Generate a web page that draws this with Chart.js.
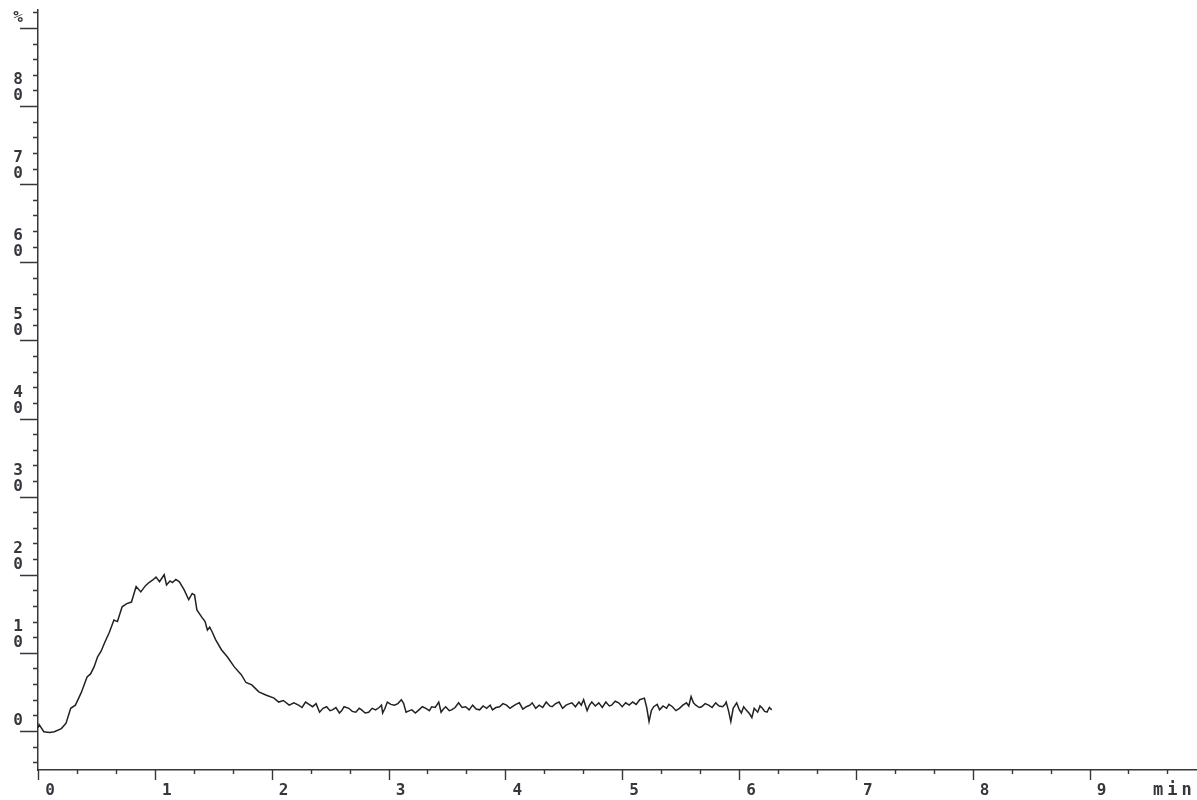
<!DOCTYPE html>
<html>
<head>
<meta charset="utf-8">
<script src="https://cdn.jsdelivr.net/npm/chart.js@4/dist/chart.umd.min.js"></script>
<style>
  html, body { margin: 0; padding: 0; background: #ffffff; }
  #c { display: block; }
</style>
</head>
<body>
<canvas id="c" width="1197" height="800"></canvas>
<script>
// ---- data ----
const timeMin = [
  0, 0.01, 0.05, 0.10, 0.14, 0.20, 0.24, 0.28, 0.32, 0.37, 0.42, 0.45, 0.48, 0.51, 0.54, 0.57, 0.61, 0.65, 0.68, 0.72,
  0.76, 0.80, 0.84, 0.88, 0.92, 0.95, 0.98, 1.01, 1.04, 1.08, 1.10, 1.13, 1.15, 1.18, 1.21, 1.25, 1.29, 1.32, 1.34, 1.36,
  1.40, 1.43, 1.45, 1.47, 1.49, 1.52, 1.57, 1.62, 1.68, 1.74, 1.78, 1.83, 1.89, 1.95, 2.02,
  2.06, 2.10, 2.15, 2.19, 2.23, 2.26, 2.29, 2.32, 2.35, 2.38, 2.41, 2.44, 2.47, 2.50, 2.52, 2.55, 2.58, 2.60, 2.62, 2.66,
  2.69, 2.72, 2.75, 2.77, 2.80, 2.83, 2.86, 2.89, 2.92, 2.94, 2.95, 2.97, 2.99, 3.02, 3.05, 3.08, 3.11, 3.13, 3.15, 3.18,
  3.20, 3.23, 3.26, 3.29, 3.32, 3.35, 3.37, 3.40, 3.43, 3.45, 3.47, 3.49, 3.52, 3.54, 3.57, 3.60, 3.63, 3.66, 3.69, 3.72,
  3.75, 3.78, 3.81, 3.84, 3.87, 3.89, 3.92, 3.95, 3.98, 4.01, 4.04, 4.06, 4.09, 4.12, 4.15, 4.18, 4.21, 4.23, 4.26, 4.29,
  4.32, 4.35, 4.38, 4.40, 4.43, 4.46, 4.49, 4.52, 4.55, 4.57, 4.60, 4.63, 4.65, 4.67, 4.70, 4.72, 4.74, 4.77, 4.80, 4.83,
  4.86, 4.89, 4.91, 4.94, 4.97, 5.00, 5.03, 5.06, 5.09, 5.12, 5.15, 5.19, 5.21, 5.23, 5.25, 5.27, 5.30, 5.32, 5.35, 5.38,
  5.40, 5.43, 5.46, 5.49, 5.52, 5.55, 5.57, 5.59, 5.61, 5.63, 5.66, 5.68, 5.71, 5.74, 5.77, 5.80, 5.83, 5.86, 5.88, 5.89,
  5.91, 5.93, 5.95, 5.98, 6.00, 6.02, 6.04, 6.06, 6.09, 6.11, 6.13, 6.16, 6.18, 6.20, 6.22, 6.24, 6.26, 6.28
];
const signalPct = [
  0.4, 0.8, -0.1, -0.2, -0.1, 0.3, 1.0, 2.9, 3.3, 4.9, 6.9, 7.3, 8.2, 9.5, 10.2, 11.3, 12.6, 14.2, 14.0, 15.9,
  16.3, 16.5, 18.5, 17.8, 18.6, 19.0, 19.3, 19.7, 19.1, 20.0, 18.7, 19.2, 19.0, 19.4, 19.1, 18.1, 16.8, 17.6, 17.4, 15.5,
  14.6, 14.0, 12.9, 13.3, 12.7, 11.7, 10.4, 9.5, 8.2, 7.2, 6.2, 5.9, 5.0, 4.6, 4.2,
  3.7, 3.9, 3.3, 3.6, 3.3, 3.0, 3.7, 3.4, 3.1, 3.5, 2.4, 2.9, 3.1, 2.6, 2.7, 3.0, 2.3, 2.6, 3.1, 2.9,
  2.5, 2.4, 2.9, 2.7, 2.3, 2.4, 2.9, 2.7, 3.0, 3.3, 2.3, 2.9, 3.7, 3.4, 3.3, 3.5, 4.0, 3.5, 2.4, 2.6,
  2.7, 2.3, 2.7, 3.1, 2.9, 2.6, 3.1, 3.0, 3.7, 2.4, 2.8, 3.1, 2.6, 2.7, 3.0, 3.6, 3.0, 3.1, 2.7, 3.3,
  2.8, 2.7, 3.2, 2.9, 3.3, 2.7, 3.0, 3.1, 3.5, 3.3, 2.9, 3.1, 3.4, 3.6, 2.8, 3.1, 3.3, 3.6, 2.9, 3.3,
  3.0, 3.7, 3.2, 3.1, 3.5, 3.7, 2.9, 3.3, 3.5, 3.6, 3.1, 3.7, 3.3, 4.0, 2.6, 3.3, 3.7, 3.2, 3.6, 3.0,
  3.7, 3.2, 3.3, 3.8, 3.6, 3.1, 3.6, 3.3, 3.7, 3.4, 4.0, 4.2, 3.0, 1.2, 2.6, 3.1, 3.4, 2.7, 3.2, 2.9,
  3.4, 3.1, 2.6, 2.9, 3.3, 3.6, 3.2, 4.4, 3.6, 3.3, 3.0, 3.1, 3.5, 3.3, 3.0, 3.6, 3.2, 3.1, 3.4, 3.7,
  2.6, 1.2, 2.9, 3.6, 2.8, 2.3, 3.1, 2.7, 2.2, 1.7, 2.9, 2.4, 3.2, 2.9, 2.5, 2.4, 3.0, 2.7
];
const xTickValues = [0, 1, 2, 3, 4, 5, 6, 7, 8, 9];
const xTickLabels = ['0', '1', '2', '3', '4', '5', '6', '7', '8', '9'];
const yTickValues = [0, 10, 20, 30, 40, 50, 60, 70, 80, 90];
const yTickLabels = [['', '0'], ['1', '0'], ['2', '0'], ['3', '0'], ['4', '0'], ['5', '0'], ['6', '0'], ['7', '0'], ['8', '0'], ['', '%']];
const xUnit = 'min';

// ---- styling ----
const INK = '#36363c';
const FONT = { family: '"DejaVu Sans Mono", "Liberation Mono", monospace', size: 16, weight: 'bold', lineHeight: 1.0 };

const points = timeMin.map((t, i) => ({ x: t, y: signalPct[i] }));

const tickPlugin = {
  id: 'chromTicks',
  afterDraw(chart) {
    const ctx = chart.ctx;
    const xs = chart.scales.x, ys = chart.scales.y;
    const ax = xs.left, ay = ys.bottom;
    ctx.save();
    ctx.strokeStyle = INK;
    ctx.lineWidth = 1.4;
    ctx.beginPath();
    for (let v = -4; v <= ys.max; v += 2) {
      const p = Math.round(ys.getPixelForValue(v)) + 0.5;
      const major = (v % 10 === 0);
      ctx.moveTo(ax - (major ? 18 : 5), p);
      ctx.lineTo(ax, p);
    }
    for (let k = 0; k / 3 <= xs.max; k++) {
      const v = k / 3;
      const p = Math.round(xs.getPixelForValue(v)) + 0.5;
      const major = (k % 3 === 0);
      ctx.moveTo(p, ay);
      ctx.lineTo(p, ay + (major ? 10 : 4));
    }
    ctx.stroke();
    ctx.fillStyle = INK;
    ctx.font = 'bold 17px "DejaVu Sans Mono", monospace';
    ctx.textBaseline = 'middle';
    ctx.textAlign = 'left';
    if (ctx.letterSpacing !== undefined) ctx.letterSpacing = '4px';
    ctx.fillText(xUnit, 1153, 791);
    ctx.restore();
  }
};

new Chart(document.getElementById('c'), {
  type: 'scatter',
  data: {
    datasets: [{
      data: points,
      showLine: true,
      borderColor: '#222226',
      borderWidth: 1.5,
      pointRadius: 0,
      tension: 0,
      fill: false
    }]
  },
  options: {
    responsive: false,
    animation: false,
    devicePixelRatio: 1,
    layout: { padding: { top: 10, right: 0, left: 0, bottom: 0 } },
    plugins: { legend: { display: false }, tooltip: { enabled: false }, title: { display: false } },
    scales: {
      x: {
        type: 'linear',
        min: 0,
        max: 9.92,
        afterBuildTicks: (s) => { s.ticks = xTickValues.map(v => ({ value: v })); },
        afterFit: (s) => { s.height = 30; s.paddingLeft = 0; s.paddingRight = 0; },
        grid: { display: false, drawTicks: false, tickLength: 0 },
        border: { display: true, color: INK, width: 1.5 },
        ticks: {
          autoSkip: false,
          maxRotation: 0,
          padding: 13,
          labelOffset: 12,
          color: INK,
          font: FONT,
          callback: (v) => { const i = xTickValues.indexOf(v); return i >= 0 ? xTickLabels[i] : ''; }
        }
      },
      y: {
        type: 'linear',
        min: -5,
        max: 92.3,
        afterBuildTicks: (s) => { s.ticks = yTickValues.map(v => ({ value: v })); },
        afterFit: (s) => { s.width = 38; s.paddingTop = 0; s.paddingBottom = 0; },
        grid: { display: false, drawTicks: false, tickLength: 0 },
        border: { display: true, color: INK, width: 1.5 },
        ticks: {
          autoSkip: false,
          padding: 15,
          labelOffset: -18,
          color: INK,
          font: FONT,
          callback: (v) => { const i = yTickValues.indexOf(v); return i >= 0 ? yTickLabels[i] : ''; }
        }
      }
    }
  },
  plugins: [tickPlugin]
});
</script>
</body>
</html>
